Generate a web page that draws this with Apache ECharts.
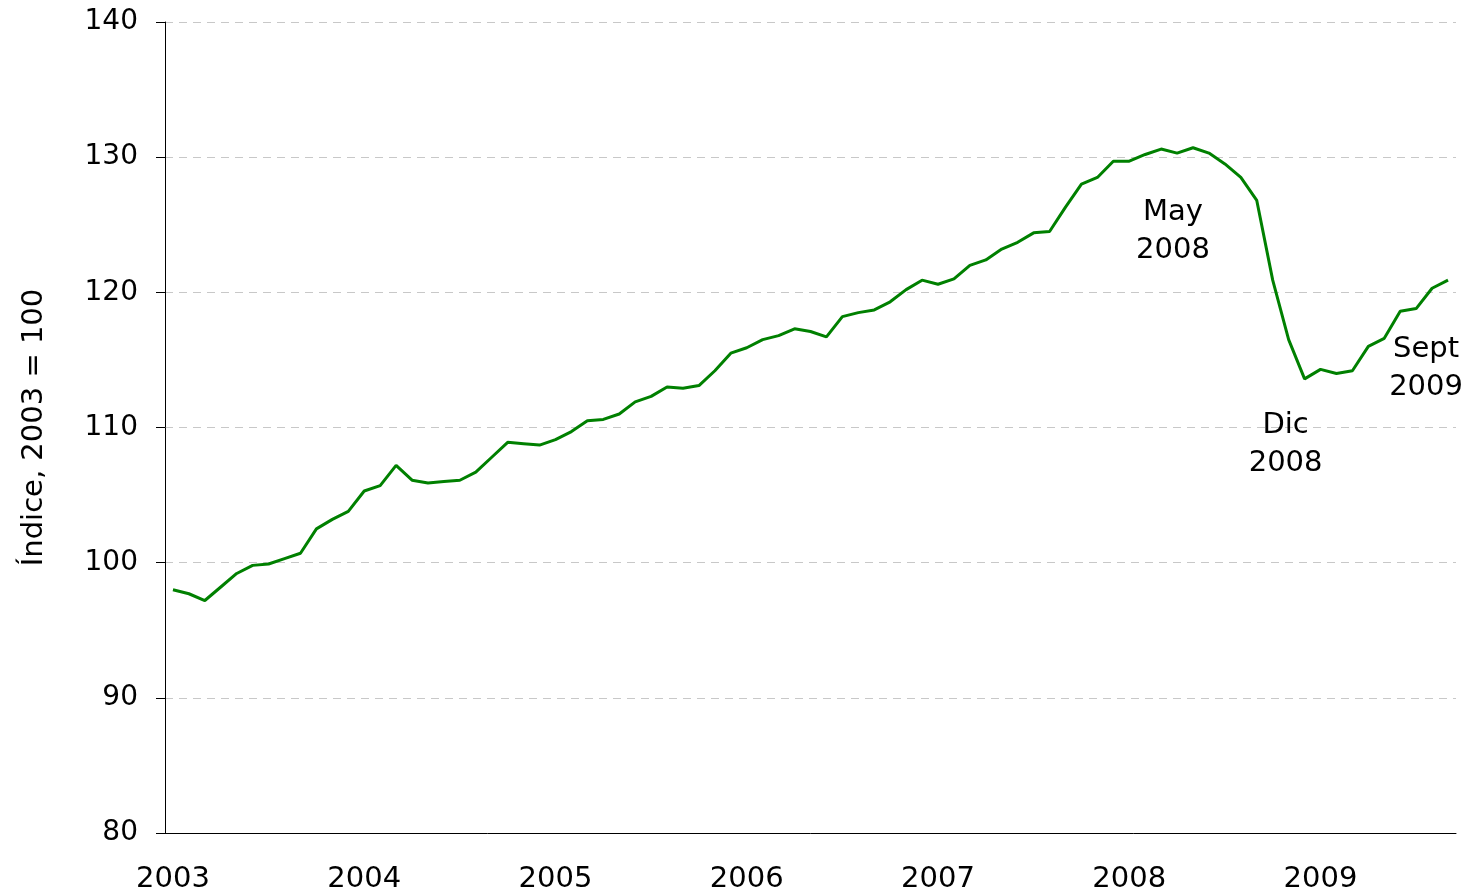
<!DOCTYPE html>
<html>
<head>
<meta charset="utf-8">
<script src="https://cdn.jsdelivr.net/npm/echarts@6/dist/echarts.min.js"></script>
<style>
  html, body { margin: 0; padding: 0; background: #fff; }
  #chart { width: 1466px; height: 893px; }
</style>
</head>
<body>
<div id="chart"></div>
<script>
// meses desde ene 2003 hasta sept 2009
var years = ['2003', '2004', '2005', '2006', '2007', '2008', '2009'];
var months = ['Ene', 'Feb', 'Mar', 'Abr', 'May', 'Jun', 'Jul', 'Ago', 'Sept', 'Oct', 'Nov', 'Dic'];
var categories = [];
years.forEach(function (y) {
  months.forEach(function (m, i) {
    if (y === '2009' && i > 8) return;
    categories.push(m + ' ' + y);
  });
});

var indice = [
  98.0, 97.7, 97.2, 98.2, 99.2, 99.8, 99.9, 100.3, 100.7, 102.5, 103.2, 103.8,
  105.3, 105.7, 107.2, 106.1, 105.9, 106.0, 106.1, 106.7, 107.8, 108.9, 108.8, 108.7,
  109.1, 109.7, 110.5, 110.6, 111.0, 111.9, 112.3, 113.0, 112.9, 113.1, 114.2, 115.5,
  115.9, 116.5, 116.8, 117.3, 117.1, 116.7, 118.2, 118.5, 118.7, 119.3, 120.2, 120.9,
  120.6, 121.0, 122.0, 122.4, 123.2, 123.7, 124.4, 124.5, 126.3, 128.0, 128.5, 129.7,
  129.7, 130.2, 130.6, 130.3, 130.7, 130.3, 129.5, 128.5, 126.8, 120.9, 116.5, 113.6,
  114.3, 114.0, 114.2, 116.0, 116.6, 118.6, 118.8, 120.3, 120.9
];

var yTicks = { min: 80, max: 140, interval: 10 };

// notas sobre la serie
var notas = [
  { name: 'May 2008', text: 'May\n2008', offset: [-20, 84] },
  { name: 'Dic 2008', text: 'Dic\n2008', offset: [-19, 66] },
  { name: 'Sept 2009', text: 'Sept\n2009', offset: [-22, 88] }
];

var chart = echarts.init(document.getElementById('chart'));
var font = 'DejaVu Sans, Verdana, sans-serif';

chart.setOption({
  animation: false,
  textStyle: { fontFamily: font },
  grid: { left: 165, right: 10, top: 22, bottom: 60, outerBoundsMode: 'none' },
  xAxis: {
    type: 'category',
    data: categories,
    boundaryGap: true,
    axisLine: { lineStyle: { color: '#000', width: 1 } },
    axisTick: { interval: 0, length: 10, lineStyle: { color: '#000' } },
    axisLabel: {
      interval: 11,
      color: '#000',
      fontSize: 29,
      margin: 32,
      fontFamily: font,
      formatter: function (v) { return v.split(' ')[1]; }
    },
    splitLine: { show: false }
  },
  yAxis: {
    type: 'value',
    min: yTicks.min,
    max: yTicks.max,
    interval: yTicks.interval,
    name: 'Índice, 2003 = 100',
    nameLocation: 'middle',
    nameGap: 116,
    nameRotate: 90,
    nameTextStyle: { color: '#000', fontSize: 29, fontFamily: font },
    axisLine: { show: true, lineStyle: { color: '#000', width: 1 } },
    axisTick: { show: true, length: 9, lineStyle: { color: '#000' } },
    axisLabel: { color: '#000', fontSize: 28, margin: 27, fontFamily: font },
    splitLine: { show: true, lineStyle: { color: '#c8c8c8', type: [8, 6], width: 1 } }
  },
  series: [{
    type: 'line',
    data: indice,
    symbol: 'none',
    lineStyle: { color: '#008000', width: 3 },
    itemStyle: { color: '#008000' },
    markPoint: {
      symbol: 'circle',
      symbolSize: 0,
      data: notas.map(function (n) {
        var i = categories.indexOf(n.name);
        return {
          coord: [n.name, indice[i]],
          label: {
            show: true,
            formatter: n.text,
            offset: n.offset,
            color: '#000',
            fontSize: 29,
            lineHeight: 38,
            align: 'center',
            fontFamily: font
          }
        };
      })
    }
  }]
});
</script>
</body>
</html>
